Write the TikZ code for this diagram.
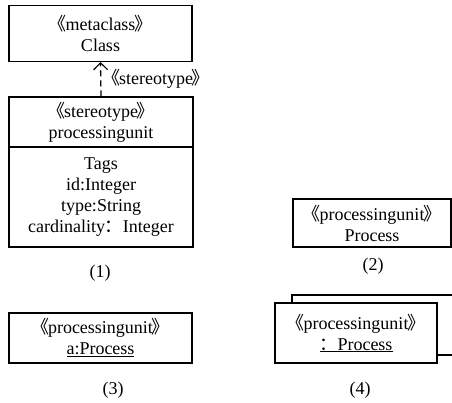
\documentclass[tikz,border=0pt]{standalone}
\usepackage{fontspec}
\setmainfont{Liberation Serif}
\newfontfamily\cjk{Noto Sans CJK SC}
\usetikzlibrary{arrows.meta}
% guillemet-style stereotype brackets, tightened to half width
\newcommand{\guil}[1]{{\cjk\kern-0.46em《\kern-0.06em}#1{\cjk\kern-0.06em 》\kern-0.46em}}
\newcommand{\fcolon}{{\cjk ：}}
\tikzset{
  umlbox/.style={draw, line width=1.1pt, fill=white, inner sep=0pt, align=center,
    font=\fontsize{18}{21}\selectfont},
  caption/.style={font=\fontsize{18}{21}\selectfont, inner sep=0pt},
  extends/.style={line width=1.3pt, dash pattern=on 6pt off 4pt,
    -{Straight Barb[length=7pt,width=14pt,line width=1.1pt]}}
}
\begin{document}
\begin{tikzpicture}[x=1pt,y=-1pt]
\useasboundingbox (0,0) rectangle (452,403);

% (1) metaclass and stereotype definition
\node[umlbox, minimum width=183pt, minimum height=56pt] (cls) at (100.5,33.5)
  {\guil{metaclass}\\Class};
\node[umlbox, minimum width=184pt, minimum height=50pt] (st) at (101,122)
  {\guil{stereotype}\\processingunit};
\node[umlbox, minimum width=184pt, minimum height=100pt] (tags) at (101,197)
  {Tags\\id:Integer\\type:String\\cardinality\fcolon Integer};
\draw[extends] (st.north) -- (cls.south)
  node[midway, right=9pt, font=\fontsize{18}{21}\selectfont, inner sep=0pt] (stlbl) {\guil{stereotype}};
\node[caption] (c1) at (100,273) {(1)};

% (2) stereotyped class
\node[umlbox, minimum width=158pt, minimum height=48pt] (proc) at (372,223)
  {\guil{processingunit}\\Process};
\node[caption] (c2) at (373,266) {(2)};

% (3) stereotyped instance
\node[umlbox, minimum width=183pt, minimum height=50pt] (inst) at (100.5,338)
  {\guil{processingunit}\\\underline{a:Process}};
\node[caption] (c3) at (113,390) {(3)};

% (4) multiple anonymous instances
\node[umlbox, minimum width=170pt, minimum height=60pt] (multiback) at (377,325) {};
\node[umlbox, minimum width=162pt, minimum height=60pt] (multi) at (356,333)
  {\guil{processingunit}\\\underline{\fcolon Process}};
\node[caption] (c4) at (360,390) {(4)};
\end{tikzpicture}
\end{document}
